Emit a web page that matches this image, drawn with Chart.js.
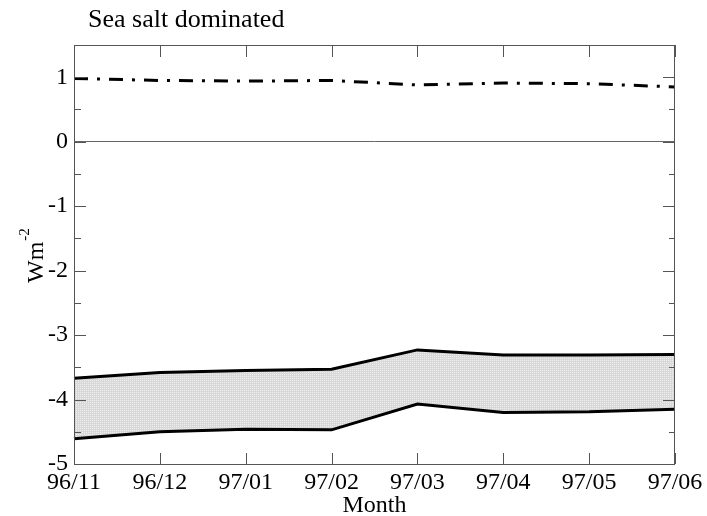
<!DOCTYPE html>
<html lang="en">

<head>
  <meta charset="UTF-8" />
  <title>Sea salt dominated</title>
  <script src="https://cdn.jsdelivr.net/npm/chart.js"></script>
  <style>
    html, body { margin: 0; padding: 0; background: #fff; }
    #wrap { width: 707px; height: 516px; }
  </style>
</head>

<body>
  <div id="wrap"><canvas id="myChart" width="707" height="516"></canvas></div>

  <script>
    // data
    const months = ["96/11", "96/12", "97/01", "97/02", "97/03", "97/04", "97/05", "97/06"];
    const lowerEdge = [-4.61, -4.50, -4.46, -4.47, -4.07, -4.20, -4.19, -4.15];
    const upperEdge = [-3.67, -3.58, -3.55, -3.53, -3.23, -3.31, -3.31, -3.30];
    const dashDot = [0.98, 0.95, 0.94, 0.95, 0.88, 0.91, 0.90, 0.85];
    const yTicks = [-5, -4, -3, -2, -1, 0, 1];
    const yMinor = [-4.5, -3.5, -2.5, -1.5, -0.5, 0.5];

    const serif = "'Liberation Serif', 'DejaVu Serif', serif";

    // stippled grey fill for the band
    function makePattern() {
      const c = document.createElement("canvas");
      c.width = 2; c.height = 2;
      const g = c.getContext("2d");
      g.fillStyle = "#d8d8d8";
      g.fillRect(0, 0, 2, 2);
      g.fillStyle = "#efefef";
      g.fillRect(0, 0, 1, 1);
      return g.createPattern(c, "repeat");
    }

    // frame, inward ticks, title, axis labels
    const framePlugin = {
      id: "frame",
      afterDraw(chart) {
        const { ctx, chartArea: a, scales } = chart;
        const x = scales.x, y = scales.y;
        ctx.save();
        ctx.strokeStyle = "#555";
        ctx.lineWidth = 1;
        ctx.strokeRect(a.left + 0.5, a.top + 0.5, a.right - a.left - 1, a.bottom - a.top);

        ctx.beginPath();
        months.forEach((m, i) => {
          const px = Math.round(x.getPixelForValue(i)) + 0.5;
          ctx.moveTo(px, a.bottom); ctx.lineTo(px, a.bottom - 11);
          ctx.moveTo(px, a.top); ctx.lineTo(px, a.top + 12);
        });
        yTicks.forEach(v => {
          const py = Math.round(y.getPixelForValue(v)) + 0.5;
          ctx.moveTo(a.left, py); ctx.lineTo(a.left + 12, py);
          ctx.moveTo(a.right, py); ctx.lineTo(a.right - 12, py);
        });
        yMinor.forEach(v => {
          const py = Math.round(y.getPixelForValue(v)) + 0.5;
          ctx.moveTo(a.left, py); ctx.lineTo(a.left + 7, py);
          ctx.moveTo(a.right, py); ctx.lineTo(a.right - 6, py);
        });
        ctx.stroke();

        ctx.fillStyle = "#000";
        ctx.font = "26px " + serif;
        ctx.textAlign = "left";
        ctx.textBaseline = "alphabetic";
        ctx.fillText("Sea salt dominated", 88, 27);

        // x axis title
        ctx.font = "24px " + serif;
        ctx.textAlign = "center";
        ctx.fillText("Month", (a.left + a.right) / 2, 512);

        // y axis label Wm^-2
        ctx.textAlign = "left";
        ctx.translate(43, 283);
        ctx.rotate(-Math.PI / 2);
        ctx.font = "24px " + serif;
        ctx.fillText("Wm", 0, 0);
        const w = ctx.measureText("Wm").width;
        ctx.font = "15px " + serif;
        ctx.fillText("-2", w + 1, -14);
        ctx.restore();
      }
    };

    const ctx = document.getElementById("myChart").getContext("2d");
    const myChart = new Chart(ctx, {
      type: "line",
      data: {
        labels: months,
        datasets: [
          {
            label: "lower",
            data: lowerEdge,
            borderColor: "#000",
            borderWidth: 3,
            pointRadius: 0,
            fill: false,
          },
          {
            label: "upper",
            data: upperEdge,
            borderColor: "#000",
            borderWidth: 3,
            pointRadius: 0,
            fill: "-1",
            backgroundColor: makePattern(),
          },
          {
            label: "dashdot",
            data: dashDot,
            borderColor: "#000",
            borderWidth: 3,
            borderDash: [14, 9, 3, 9],
            pointRadius: 0,
            fill: false,
          },
        ],
      },
      options: {
        responsive: false,
        animation: false,
        layout: { padding: { left: 0, right: 32, top: 45, bottom: 0 } },
        plugins: {
          legend: { display: false },
          tooltip: { enabled: false },
        },
        scales: {
          x: {
            type: "category",
            offset: false,
            grid: { display: false },
            border: { display: false },
            ticks: {
              color: "#000",
              font: { family: serif, size: 24 },
              padding: -4,
              maxRotation: 0,
              autoSkip: false,
            },
            afterFit(s) { s.height = 52; },
          },
          y: {
            min: -5,
            max: 1.5,
            grid: {
              drawTicks: false,
              color: (c) => (c.tick && c.tick.value === 0 ? "#666" : "rgba(0,0,0,0)"),
            },
            border: { display: false },
            ticks: {
              stepSize: 1,
              color: "#000",
              font: { family: serif, size: 24 },
              padding: 6,
            },
            afterBuildTicks(s) {
              s.ticks = yTicks.map(v => ({ value: v }));
            },
            afterFit(s) { s.width = 74; },
          },
        },
      },
      plugins: [framePlugin],
    });
  </script>
</body>

</html>
